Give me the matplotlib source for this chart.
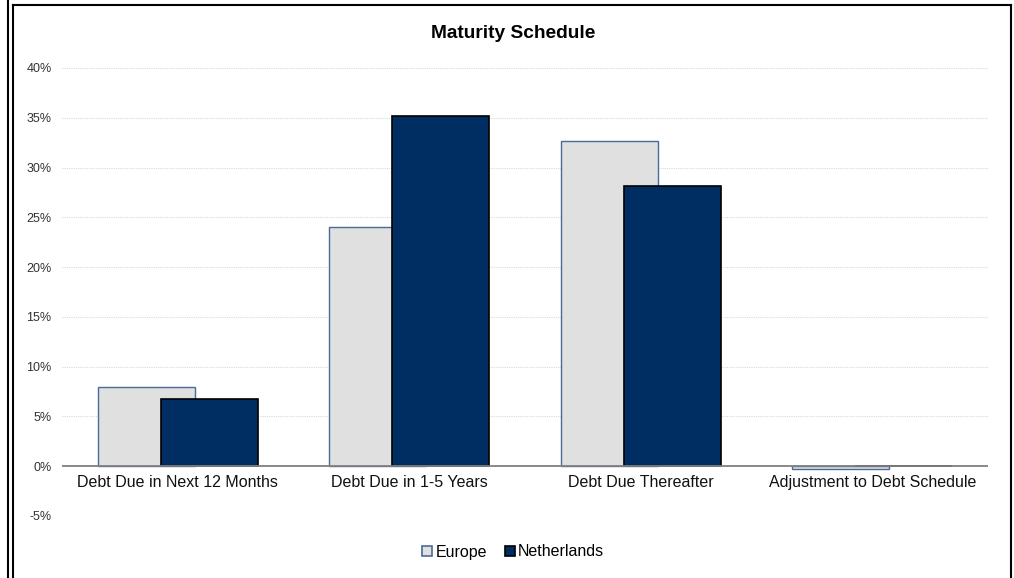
import matplotlib
matplotlib.use('Agg')
import matplotlib.pyplot as plt
from matplotlib.lines import Line2D
from matplotlib.patches import Patch
from matplotlib.ticker import FuncFormatter

plt.rcParams['font.family'] = ['Liberation Sans', 'DejaVu Sans']

# data (percent)
categories = ['Debt Due in Next 12 Months', 'Debt Due in 1-5 Years',
              'Debt Due Thereafter', 'Adjustment to Debt Schedule']
europe = [8.0, 24.0, 32.7, -0.3]
netherlands = [6.8, 35.2, 28.1, 0.0]
yticks = [-5, 0, 5, 10, 15, 20, 25, 30, 35, 40]

eu_face, eu_edge = '#e0e0e0', '#4a6a9c'
nl_face, nl_edge = '#002d62', '#000000'

fig = plt.figure(figsize=(10.14, 5.78), dpi=100)
ax = fig.add_axes([62/1014, 1-516/578, (988-62)/1014, (516-68)/578])

x = range(len(categories))
off, w = 0.136, 0.419
ax.bar([i - off for i in x], europe, width=w, color=eu_face,
       edgecolor=eu_edge, linewidth=1.0, zorder=3)
ax.bar([i + off for i in x], netherlands, width=w, color=nl_face,
       edgecolor=nl_edge, linewidth=1.2, zorder=4)

ax.set_xlim(-0.5, len(categories) - 0.5)
ax.set_ylim(-5, 40)
ax.set_yticks(yticks)
ax.yaxis.set_major_formatter(FuncFormatter(lambda v, p: '%d%%' % v))
ax.tick_params(axis='y', length=0, pad=7.5, labelsize=9, labelcolor='#333333')
ax.set_xticks([])
for s in ax.spines.values():
    s.set_visible(False)

# gridlines (dotted), solid zero line
for t in yticks:
    if t == 0:
        ax.axhline(0, color='#808080', lw=1.3, zorder=5)
    else:
        ax.axhline(t, color='#dadada', lw=0.8, ls=(0, (1, 1)), zorder=1)

for i, c in enumerate(categories):
    ax.text(i, -0.9, c, ha='center', va='top', fontsize=11.5, color='#111111')

fig.text(0.506, 1-33/578, 'Maturity Schedule', ha='center', va='center',
         fontsize=13.8, fontweight='bold')

handles = [Patch(facecolor=eu_face, edgecolor=eu_edge, lw=1.2, label='Europe'),
           Patch(facecolor=nl_face, edgecolor=nl_edge, lw=1.2, label='Netherlands')]
fig.legend(handles=handles, loc='center', bbox_to_anchor=(0.506, 1-552/578),
           ncol=2, frameon=False, fontsize=11.5, handlelength=0.65,
           handleheight=0.65, handletextpad=0.2, columnspacing=1.1)

# outer border lines
lw = 1.5
fig.add_artist(Line2D([7.8/1014, 7.8/1014], [0, 1], color='black', lw=lw, transform=fig.transFigure))
fig.add_artist(Line2D([13/1014, 13/1014], [0, 1-5/578], color='black', lw=lw, transform=fig.transFigure))
fig.add_artist(Line2D([12.5/1014, 1011/1014], [1-5/578, 1-5/578], color='black', lw=lw, transform=fig.transFigure))
fig.add_artist(Line2D([1010.5/1014, 1010.5/1014], [0, 1-5/578], color='black', lw=lw, transform=fig.transFigure))

fig.savefig('out.png', dpi=100)
